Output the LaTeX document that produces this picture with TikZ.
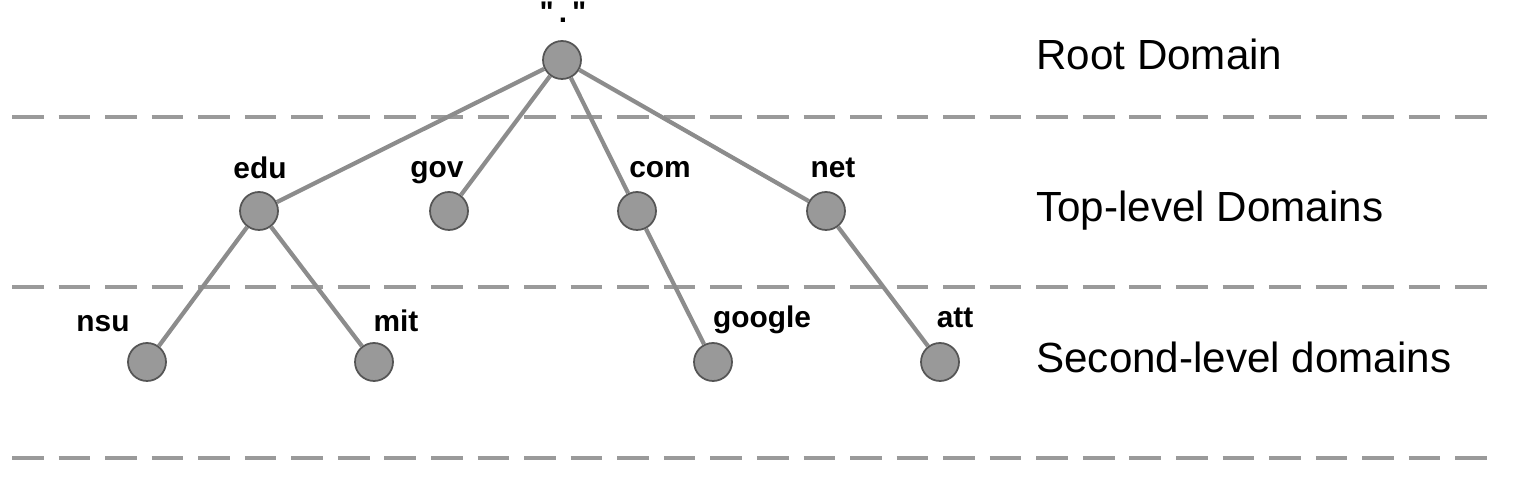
\documentclass[tikz,border=0pt]{standalone}
\usepackage{fontspec}
\setmainfont{Liberation Sans}[Ligatures=TeXOff]

\definecolor{linegray}{HTML}{8C8C8C}
\definecolor{dashgray}{HTML}{9A9A9A}
\definecolor{nodegray}{HTML}{999999}
\definecolor{rimgray}{HTML}{555555}

\tikzset{
    domnode/.style={circle, draw=rimgray, fill=nodegray, line width=1pt, minimum size=0.76cm, inner sep=0pt},
    domlabel/.style={anchor=base, inner sep=0pt, font=\bfseries\fontsize{17}{20}\selectfont},
    levellabel/.style={anchor=base west, inner sep=0pt, font=\fontsize{24}{28}\selectfont},
    treeedge/.style={draw=linegray, line width=2.4pt},
    levelline/.style={draw=dashgray, line width=2pt, dash pattern=on 18pt off 8.5pt}
}

\begin{document}
\begin{tikzpicture}[x=0.02cm, y=-0.02cm]

    \useasboundingbox (0,0) rectangle (1524,502);

    % Level separators
    \draw[levelline] (12,117) -- (1490,117);
    \draw[levelline] (12,287) -- (1490,287);
    \draw[levelline] (12,458) -- (1490,458);

    % Root
    \node[domnode] (root) at (562,60) {};
    \node[domlabel] (root-l) at (563,23) {"\,.\,"};

    % Top-level domains
    \node[domnode] (edu) at (259,211) {};
    \node[domnode] (gov) at (449,211) {};
    \node[domnode] (com) at (637,211) {};
    \node[domnode] (net) at (826,211) {};
    \node[domlabel] (edu-l) at (260,179) {edu};
    \node[domlabel] (gov-l) at (437,178) {gov};
    \node[domlabel] (com-l) at (660,178) {com};
    \node[domlabel] (net-l) at (833,178) {net};

    % Second-level domains
    \node[domnode] (nsu) at (147,362) {};
    \node[domnode] (mit) at (374,362) {};
    \node[domnode] (google) at (713,362) {};
    \node[domnode] (att) at (940,362) {};
    \node[domlabel] (nsu-l) at (103,332) {nsu};
    \node[domlabel] (mit-l) at (396,332) {mit};
    \node[domlabel] (google-l) at (762,328) {google};
    \node[domlabel] (att-l) at (955,328) {att};

    % Tree edges
    \draw[treeedge] (root) -- (edu);
    \draw[treeedge] (root) -- (gov);
    \draw[treeedge] (root) -- (com);
    \draw[treeedge] (root) -- (net);
    \draw[treeedge] (edu) -- (nsu);
    \draw[treeedge] (edu) -- (mit);
    \draw[treeedge] (com) -- (google);
    \draw[treeedge] (net) -- (att);

    % Level names
    \node[levellabel] (lvl-root) at (1036,70) {Root Domain};
    \node[levellabel] (lvl-top) at (1036,222) {Top-level Domains};
    \node[levellabel] (lvl-second) at (1036,373) {Second-level domains};

\end{tikzpicture}
\end{document}
